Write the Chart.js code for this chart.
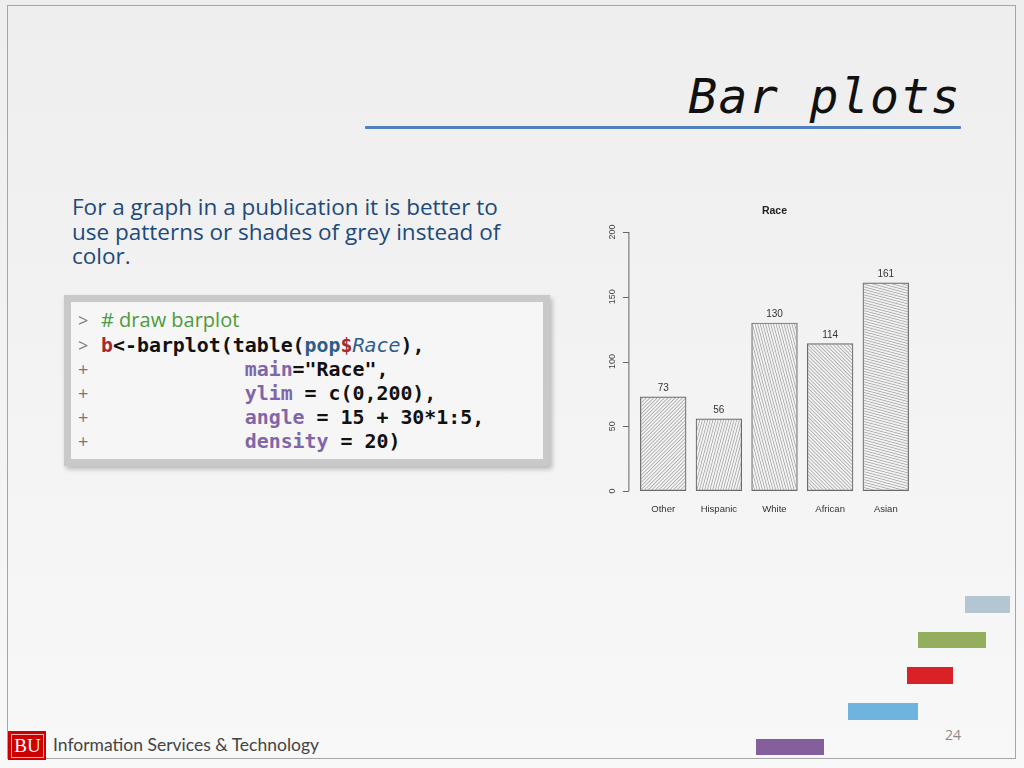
<!DOCTYPE html>
<html>
<head>
<meta charset="utf-8">
<script src="https://cdn.jsdelivr.net/npm/chart.js@4"></script>
<style>
  html, body { margin:0; padding:0; }
  body { width:1024px; height:768px; position:relative; overflow:hidden;
         background: linear-gradient(to bottom, #eeeeee 0%, #f3f3f3 50%, #f8f8f8 100%);
         font-family: "Open Sans", "Noto Sans", sans-serif; }
  .abs { position:absolute; }
  #frame { left:7px; top:5px; width:1007px; height:752px; border:1.5px solid #a6a6a6; }
  #title { right:63px; top:68px; font-family:"DejaVu Sans Mono", monospace; font-style:italic;
           font-size:48px; letter-spacing:1.4px; color:#111; white-space:nowrap; line-height:56px; }
  #rule { left:365px; top:126px; width:596px; height:3px; background:#4f81bd; border-radius:1px; }
  #para { left:72px; top:195px; width:445px; font-size:22.5px; line-height:24.5px; color:#21497a; }
  #codeOuter { left:64px; top:295px; width:486px; height:171px; background:#c9c9c9;
               box-shadow: 2px 3px 5px rgba(0,0,0,0.25); }
  #codeInner { left:71px; top:302px; width:472px; height:157px; background:#f6f6f6; }
  .cl { position:absolute; left:78px; white-space:pre; font-size:19px; line-height:24px; }
  .pr { color:#777; font-family:"Open Sans", sans-serif; font-size:18px; display:inline-block; width:23px; }
  .cd { font-family:"DejaVu Sans Mono", monospace; font-weight:bold; color:#111; font-size:19.9px; }
  .cm { font-family:"Open Sans", sans-serif; color:#4f9a3a; font-size:20px; }
  .kw { color:#8066a8; }
  .vr { color:#a32a2e; }
  .ob { color:#2e5d8c; }
  .it { color:#2e5d8c; font-style:italic; font-weight:normal; }
  #bu { left:8px; top:731px; width:38px; height:29px; background:#cc0000; }
  #buIn { left:11px; top:734px; width:31px; height:22px; border:1px solid #f3b0b0;
          color:#fff; font-family:"Liberation Serif", serif; font-size:19px; line-height:22px; text-align:center; }
  #ist { left:53px; top:734px; font-family:"Lato", "Open Sans", sans-serif; font-size:17.5px; color:#444; white-space:nowrap; }
  #pg { left:945px; top:725px; font-size:14px; color:#8a8a8a; }
  .deco { position:absolute; }
  #chartBox { left:595px; top:195px; width:340px; height:330px; }
</style>
</head>
<body>
<div id="frame" class="abs"></div>
<div id="title" class="abs">Bar plots</div>
<div id="rule" class="abs"></div>
<div id="para" class="abs">For a graph in a publication it is better to use patterns or shades of grey instead of color.</div>

<div id="codeOuter" class="abs"></div>
<div id="codeInner" class="abs"></div>
<div class="cl" style="top:308px"><span class="pr">&gt;</span><span class="cm"># draw barplot</span></div>
<div class="cl" style="top:333px"><span class="pr">&gt;</span><span class="cd"><span class="vr">b</span>&lt;-barplot(table(<span class="ob">pop</span><span class="vr">$</span><span class="it">Race</span>),</span></div>
<div class="cl" style="top:357px"><span class="pr">+</span><span class="cd">            <span class="kw">main</span>="Race",</span></div>
<div class="cl" style="top:381px"><span class="pr">+</span><span class="cd">            <span class="kw">ylim</span> = c(0,200),</span></div>
<div class="cl" style="top:405px"><span class="pr">+</span><span class="cd">            <span class="kw">angle</span> = 15 + 30*1:5,</span></div>
<div class="cl" style="top:429px"><span class="pr">+</span><span class="cd">            <span class="kw">density</span> = 20)</span></div>

<div id="chartBox" class="abs"><canvas id="c" width="340" height="330"></canvas></div>

<div class="deco" style="left:965px;top:596px;width:45px;height:17px;background:#b4c6d1"></div>
<div class="deco" style="left:918px;top:632px;width:68px;height:16px;background:#94ad5e"></div>
<div class="deco" style="left:907px;top:667px;width:46px;height:17px;background:#da2128"></div>
<div class="deco" style="left:848px;top:703px;width:70px;height:17px;background:#6eb4de"></div>
<div class="deco" style="left:756px;top:739px;width:68px;height:16px;background:#835f9b"></div>

<div id="bu" class="abs"></div>
<div id="buIn" class="abs">BU</div>
<div id="ist" class="abs">Information Services &amp; Technology</div>
<div id="pg" class="abs">24</div>

<script>
// ---- data ----
const categories = ["Other", "Hispanic", "White", "African", "Asian"];
const counts = [73, 56, 130, 114, 161];
const yTicks = [0, 50, 100, 150, 200];
const chartTitle = "Race";
// hatch angles (R: angle = 15 + 30*1:5)
const hatchAngles = [45, 75, 105, 135, 165];

function hatch(angle) {
  const s = 3;
  const t = document.createElement('canvas');
  t.width = s; t.height = s;
  const g = t.getContext('2d');
  g.fillStyle = 'rgba(125,125,125,0.7)';
  g.fillRect(0, 1, s, 0.85);
  const ctx = document.getElementById('c').getContext('2d');
  const p = ctx.createPattern(t, 'repeat');
  p.setTransform(new DOMMatrix().rotateSelf(-angle).scaleSelf(0.85));
  return p;
}

const rAxis = {
  id: 'rAxis',
  afterDraw(chart) {
    const ctx = chart.ctx;
    const ys = chart.scales.y, xs = chart.scales.x;
    const ca = chart.chartArea;
    const ax = ca.left - 6.5;
    ctx.save();
    ctx.strokeStyle = '#666';
    ctx.lineWidth = 1;
    ctx.beginPath();
    ctx.moveTo(ax, ys.getPixelForValue(yTicks[0]));
    ctx.lineTo(ax, ys.getPixelForValue(yTicks[yTicks.length - 1]));
    yTicks.forEach(v => {
      const py = Math.round(ys.getPixelForValue(v)) + 0.5;
      ctx.moveTo(ax, py); ctx.lineTo(ax - 6, py);
    });
    ctx.stroke();
    ctx.fillStyle = '#444';
    ctx.font = '9px "Liberation Sans", Arial, sans-serif';
    ctx.textAlign = 'center';
    ctx.textBaseline = 'middle';
    yTicks.forEach(v => {
      const py = ys.getPixelForValue(v);
      ctx.save();
      ctx.translate(ax - 16.5, py);
      ctx.rotate(-Math.PI / 2);
      ctx.fillText(String(v), 0, 0);
      ctx.restore();
    });
    // category labels
    ctx.fillStyle = '#333';
    ctx.font = '9.5px "Liberation Sans", Arial, sans-serif';
    categories.forEach((c, i) => {
      ctx.fillText(c, xs.getPixelForValue(i), ys.getPixelForValue(0) + 18);
    });
    // value labels
    ctx.font = '10px "Liberation Sans", Arial, sans-serif';
    counts.forEach((v, i) => {
      ctx.fillText(String(v), xs.getPixelForValue(i), ys.getPixelForValue(v) - 8.5);
    });
    // title
    ctx.fillStyle = '#222';
    ctx.font = 'bold 10.5px "Liberation Sans", Arial, sans-serif';
    ctx.fillText(chartTitle, (ca.left + ca.right) / 2, 16);
    ctx.restore();
  }
};

new Chart(document.getElementById('c'), {
  type: 'bar',
  data: {
    labels: categories,
    datasets: [{
      data: counts,
      backgroundColor: hatchAngles.map(hatch),
      borderColor: '#6a6a6a',
      borderWidth: 1.2,
      borderSkipped: false,
      categoryPercentage: 1,
      barPercentage: 1 / 1.2
    }]
  },
  options: {
    responsive: false,
    animation: false,
    devicePixelRatio: 1,
    layout: { padding: { left: 40.4, right: 21.4, top: 37, bottom: 34 } },
    plugins: { legend: { display: false }, tooltip: { enabled: false }, title: { display: false } },
    scales: {
      x: { display: false, type: 'category' },
      y: { display: false, min: 0, max: 200 }
    }
  },
  plugins: [rAxis]
});
</script>
</body>
</html>
